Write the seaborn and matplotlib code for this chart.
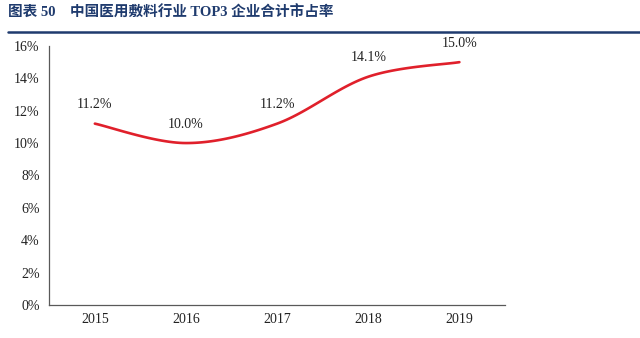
import numpy as np
import pandas as pd
import matplotlib
matplotlib.use("Agg")
import matplotlib.pyplot as plt
import seaborn as sns
from matplotlib.lines import Line2D

years = ["2015", "2016", "2017", "2018", "2019"]
share = [11.2, 10.0, 11.2, 14.1, 15.0]
labels = ["11.2%", "10.0%", "11.2%", "14.1%", "15.0%"]
yticks = [0, 2, 4, 6, 8, 10, 12, 14, 16]
title = "图表 50    中国医用敷料行业 TOP3 企业合计市占率"

sns.set_theme(style="white")
plt.rcParams["font.family"] = ["Liberation Serif", "Noto Sans CJK SC", "DejaVu Sans"]

fig = plt.figure(figsize=(6.4, 3.38), dpi=100)
ax = fig.add_axes([0.077, 0.098, 0.712, 0.766])


def smooth(xs, ys, n=30):
    # Excel-style smoothed line (cubic Bezier, Catmull-Rom control points)
    xs = np.asarray(xs, float)
    ys = np.asarray(ys, float)
    px = np.concatenate([[xs[0]], xs, [xs[-1]]])
    py = np.concatenate([[ys[0]], ys, [ys[-1]]])
    outx, outy = [], []
    t = np.linspace(0, 1, n)
    for i in range(1, len(px) - 2):
        p0 = np.array([px[i], py[i]])
        p3 = np.array([px[i + 1], py[i + 1]])
        p1 = p0 + (np.array([px[i + 1], py[i + 1]]) - np.array([px[i - 1], py[i - 1]])) / 6
        p2 = p3 - (np.array([px[i + 2], py[i + 2]]) - np.array([px[i], py[i]])) / 6
        for tt in t:
            b = ((1 - tt) ** 3) * p0 + 3 * ((1 - tt) ** 2) * tt * p1 + 3 * (1 - tt) * tt ** 2 * p2 + tt ** 3 * p3
            outx.append(b[0])
            outy.append(b[1])
    return np.array(outx), np.array(outy)


xpos = np.arange(len(years))
sx, sy = smooth(xpos, share)
curve = pd.DataFrame({"x": sx, "y": sy})
sns.lineplot(data=curve, x="x", y="y", ax=ax, color="#E0202B", linewidth=1.9,
             sort=False, estimator=None)

for xi, v, lab in zip(xpos, share, labels):
    ax.annotate(lab, (xi, v), xytext=(0, 9), textcoords="offset points",
                ha="center", va="bottom", fontsize=10, color="#222222")

ax.set_xlim(-0.5, len(years) - 0.5)
ax.set_ylim(0, 16)
ax.set_yticks(yticks)
ax.set_yticklabels([f"{t}%" for t in yticks])
ax.set_xticks(np.arange(len(years) + 1) - 0.5)
ax.set_xticklabels([""] * (len(years) + 1))
ax.set_xticks(xpos, minor=True)
ax.set_xticklabels(years, minor=True)
ax.tick_params(axis="x", which="major", direction="out", length=4, width=0.8, color="#595959")
ax.tick_params(axis="x", which="minor", length=0, pad=6, labelsize=10, labelcolor="#222222")
ax.tick_params(axis="y", direction="out", length=4, width=0.8, color="#595959",
               labelsize=10, labelcolor="#222222", pad=3)
ax.set_xlabel("")
ax.set_ylabel("")
for s in ["top", "right"]:
    ax.spines[s].set_visible(False)
for s in ["left", "bottom"]:
    ax.spines[s].set_color("#595959")
    ax.spines[s].set_linewidth(0.9)

fig.text(8 / 640, 1 - 13 / 338, title, fontsize=10.5, fontweight="bold", color="#1F3B6E",
         va="center", ha="left", family=["Liberation Serif", "Noto Sans CJK SC"])
fig.add_artist(Line2D([8 / 640, 1.0], [1 - 32 / 338, 1 - 32 / 338], transform=fig.transFigure,
                      color="#1F3B6E", linewidth=1.8))

fig.savefig("out.png", dpi=100)
